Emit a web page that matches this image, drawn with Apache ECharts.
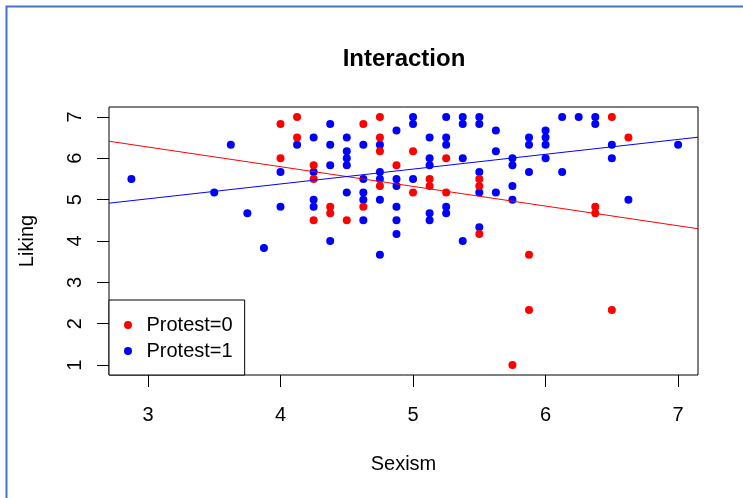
<!DOCTYPE html>
<html>
<head>
<meta charset="utf-8">
<script src="https://cdn.jsdelivr.net/npm/echarts@6/dist/echarts.min.js"></script>
<style>html,body{margin:0;padding:0;background:#fff}#chart{width:743px;height:498px}</style>
</head>
<body>
<div id="chart"></div>
<script>
// Protest = 0 (red)
const sexism0 = [4.0, 4.0, 4.125, 4.125, 4.25, 4.25, 4.25, 4.375, 4.375, 4.5, 4.625, 4.625, 4.75, 4.75, 4.75, 4.75, 4.875, 5.0, 5.0, 5.125, 5.125, 5.25, 5.25, 5.5, 5.5, 5.5, 5.75, 5.875, 5.875, 6.375, 6.375, 6.5, 6.5, 6.625];
const liking0 = [6.83, 6.0, 7.0, 6.5, 5.83, 5.5, 4.5, 4.83, 4.67, 4.5, 6.83, 4.83, 7.0, 6.5, 6.17, 5.33, 5.83, 6.17, 5.17, 5.5, 5.33, 6.0, 5.17, 5.5, 5.33, 4.17, 1.0, 3.67, 2.33, 4.83, 4.67, 7.0, 2.33, 6.5];
// Protest = 1 (blue)
const sexism1 = [2.875, 3.5, 3.625, 3.75, 3.875, 4.0, 4.0, 4.125, 4.25, 4.25, 4.25, 4.25, 4.375, 4.375, 4.375, 4.375, 4.5, 4.5, 4.5, 4.5, 4.5, 4.625, 4.625, 4.625, 4.625, 4.625, 4.75, 4.75, 4.75, 4.75, 4.75, 4.875, 4.875, 4.875, 4.875, 4.875, 4.875, 5.0, 5.0, 5.0, 5.125, 5.125, 5.125, 5.125, 5.125, 5.25, 5.25, 5.25, 5.25, 5.25, 5.375, 5.375, 5.375, 5.375, 5.5, 5.5, 5.5, 5.5, 5.5, 5.625, 5.625, 5.625, 5.75, 5.75, 5.75, 5.75, 5.875, 5.875, 5.875, 6.0, 6.0, 6.0, 6.0, 6.125, 6.125, 6.25, 6.375, 6.375, 6.5, 6.5, 6.625, 7.0];
const liking1 = [5.5, 5.17, 6.33, 4.67, 3.83, 5.67, 4.83, 6.33, 6.5, 5.67, 5.0, 4.83, 6.83, 6.33, 5.83, 4.0, 6.5, 6.17, 6.0, 5.83, 5.17, 6.33, 5.5, 5.17, 5.0, 4.5, 6.33, 5.67, 5.5, 5.0, 3.67, 6.67, 5.5, 5.33, 4.83, 4.5, 4.17, 7.0, 6.83, 5.5, 6.5, 6.0, 5.83, 4.67, 4.5, 7.0, 6.5, 6.33, 4.83, 4.67, 7.0, 6.83, 6.0, 4.0, 7.0, 6.83, 5.67, 5.17, 4.33, 6.67, 6.17, 5.17, 6.0, 5.83, 5.33, 5.0, 6.5, 6.33, 5.67, 6.67, 6.5, 6.33, 6.0, 7.0, 5.67, 7.0, 7.0, 6.83, 6.33, 6.0, 5.0, 6.33];
// fitted lines: [intercept, slope]
const fit0 = [7.70, -0.476];
const fit1 = [3.943, 0.359];
const xTicks = [3, 4, 5, 6, 7];
const yTicks = [1, 2, 3, 4, 5, 6, 7];
const xRange = [2.706, 7.15];
const yRange = [0.76, 7.24];
const seriesNames = ['Protest=0', 'Protest=1'];

const font = "'Liberation Sans', Arial, Helvetica, sans-serif";
const pts = (xs, ys) => xs.map((x, i) => [x, ys[i]]);
const fitLine = f => xRange.map(x => [x, f[0] + f[1] * x]);

const chart = echarts.init(document.getElementById('chart'), null, {renderer: 'canvas'});
chart.setOption({
  animation: false,
  textStyle: {fontFamily: font, color: '#000'},
  graphic: [
    {type: 'rect', silent: true, shape: {x: 6.5, y: 6.5, width: 900, height: 700},
     style: {fill: 'none', stroke: '#4472C4', lineWidth: 2}},
    {type: 'text', silent: true, x: 404, y: 59,
     style: {text: 'Interaction', font: 'bold 24px ' + font, fill: '#000',
             align: 'center', verticalAlign: 'middle', textAlign: 'center', textVerticalAlign: 'middle'}}
  ],
  grid: {left: 109, top: 107, right: 45, bottom: 123, show: true, borderColor: '#000', borderWidth: 1,
         backgroundColor: 'transparent', outerBoundsMode: 'none', containLabel: false},
  xAxis: {
    type: 'value', min: xRange[0], max: xRange[1],
    name: 'Sexism', nameLocation: 'middle', nameGap: 79,
    nameTextStyle: {fontSize: 20, color: '#000', fontFamily: font},
    axisLine: {show: false}, splitLine: {show: false},
    axisTick: {show: true, inside: false, length: 12, lineStyle: {color: '#000', width: 1}, customValues: xTicks},
    axisLabel: {customValues: xTicks, fontSize: 20, color: '#000', margin: 30, fontFamily: font,
                formatter: v => (Number.isInteger(v) ? String(v) : '')}
  },
  yAxis: {
    type: 'value', min: yRange[0], max: yRange[1],
    name: 'Liking', nameLocation: 'middle', nameGap: 72,
    nameTextStyle: {fontSize: 20, color: '#000', fontFamily: font},
    axisLine: {show: false}, splitLine: {show: false},
    axisTick: {show: true, inside: false, length: 12, lineStyle: {color: '#000', width: 1}, customValues: yTicks},
    axisLabel: {customValues: yTicks, fontSize: 20, color: '#000', margin: 24, rotate: 90, fontFamily: font,
                formatter: v => (Number.isInteger(v) ? String(v) : '')}
  },
  legend: {
    data: seriesNames, orient: 'vertical', left: 109, top: 300,
    backgroundColor: '#fff', borderColor: '#000', borderWidth: 1, borderRadius: 0,
    padding: [12, 12, 11, 15], itemGap: 0, itemWidth: 27, itemHeight: 8, icon: 'circle',
    selectedMode: false,
    textStyle: {fontSize: 20, color: '#000', lineHeight: 26, fontFamily: font}
  },
  series: [
    {name: 'fit0', type: 'line', data: fitLine(fit0), symbol: 'none', silent: true,
     lineStyle: {color: '#FF0000', width: 1}, z: 3},
    {name: 'fit1', type: 'line', data: fitLine(fit1), symbol: 'none', silent: true,
     lineStyle: {color: '#0000FF', width: 1}, z: 3},
    {name: seriesNames[1], type: 'scatter', data: pts(sexism1, liking1), symbolSize: 8, silent: true,
     itemStyle: {color: '#0000FF', opacity: 1}, z: 2},
    {name: seriesNames[0], type: 'scatter', data: pts(sexism0, liking0), symbolSize: 8, silent: true,
     itemStyle: {color: '#FF0000', opacity: 1}, z: 2}
  ]
});
</script>
</body>
</html>
